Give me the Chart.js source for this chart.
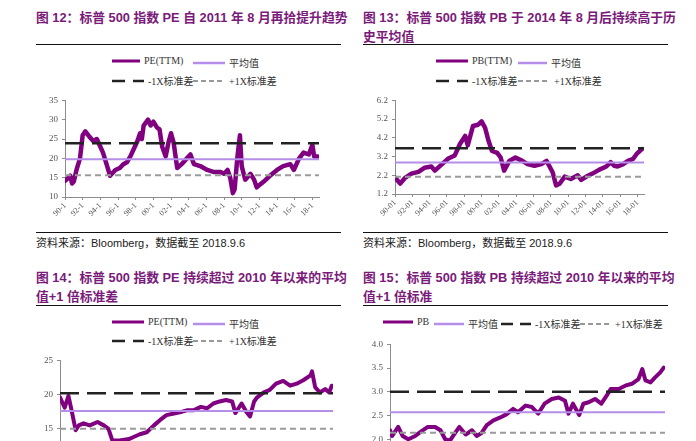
<!DOCTYPE html>
<html>
<head>
<meta charset="utf-8">
<script src="https://cdn.jsdelivr.net/npm/chart.js@4.4.0/dist/chart.umd.min.js"></script>
<style>
  html, body { margin: 0; padding: 0; background: #fff; overflow: hidden; }
  body { width: 696px; height: 441px; position: relative; }
  .title { position: absolute; color: #7a1a7a; font-family: "Liberation Sans", "Noto Sans CJK SC", sans-serif;
           font-weight: bold; font-size: 12.8px; line-height: 19px; white-space: nowrap; }
  .rule { position: absolute; height: 1px; background: #111; }
  .legend { position: absolute; font-family: "Liberation Serif", "Noto Sans CJK SC", serif; font-size: 10px;
            color: #333; white-space: nowrap; }
  .legend .item { position: absolute; display: flex; align-items: center; }
  .legend svg { margin-right: 4px; }
  .source { position: absolute; font-family: "Liberation Sans", "Noto Sans CJK SC", sans-serif; font-size: 11px;
            color: #222; white-space: nowrap; }
  .box { position: absolute; }
</style>
</head>
<body>

<div class="title" style="left:36px;top:8px">图 12：标普 500 指数 PE 自 2011 年 8 月再拾提升趋势</div>
<div class="rule" style="left:36px;top:44px;width:305px"></div>
<div class="legend" style="left:0;top:0">
  <div class="item" style="left:112px;top:55px"><svg width="28" height="6"><line x1="0" y1="3" x2="28" y2="3" stroke="#800080" stroke-width="3"/></svg>PE(TTM)</div>
  <div class="item" style="left:193px;top:55px"><svg width="32" height="6"><line x1="0" y1="3" x2="32" y2="3" stroke="#b48ee8" stroke-width="2.5"/></svg>平均值</div>
  <div class="item" style="left:112px;top:73px"><svg width="32" height="6"><line x1="0" y1="3" x2="32" y2="3" stroke="#222" stroke-width="2.5" stroke-dasharray="13,8"/></svg>-1X标准差</div>
  <div class="item" style="left:193px;top:73px"><svg width="32" height="6"><line x1="0" y1="3" x2="32" y2="3" stroke="#999" stroke-width="2" stroke-dasharray="5,3"/></svg>+1X标准差</div>
</div>
<div class="box" style="left:30px;top:91px;width:293px;height:136px"><canvas id="c1"></canvas></div>
<div class="rule" style="left:36px;top:232px;width:305px"></div>
<div class="source" style="left:36px;top:234px">资料来源：Bloomberg，数据截至 2018.9.6</div>

<div class="title" style="left:363px;top:8px">图 13：标普 500 指数 PB 于 2014 年 8 月后持续高于历<br>史平均值</div>
<div class="rule" style="left:363px;top:44px;width:305px"></div>
<div class="legend" style="left:0;top:0">
  <div class="item" style="left:436px;top:55px"><svg width="32" height="6"><line x1="0" y1="3" x2="32" y2="3" stroke="#800080" stroke-width="3"/></svg>PB(TTM)</div>
  <div class="item" style="left:518px;top:55px"><svg width="29" height="6"><line x1="0" y1="3" x2="29" y2="3" stroke="#b48ee8" stroke-width="2.5"/></svg>平均值</div>
  <div class="item" style="left:436px;top:73px"><svg width="32" height="6"><line x1="0" y1="3" x2="32" y2="3" stroke="#222" stroke-width="2.5" stroke-dasharray="13,8"/></svg>-1X标准差</div>
  <div class="item" style="left:518px;top:73px"><svg width="32" height="6"><line x1="0" y1="3" x2="32" y2="3" stroke="#999" stroke-width="2" stroke-dasharray="5,3"/></svg>+1X标准差</div>
</div>
<div class="box" style="left:360px;top:91px;width:288px;height:133px"><canvas id="c2"></canvas></div>
<div class="rule" style="left:363px;top:232px;width:305px"></div>
<div class="source" style="left:363px;top:234px">资料来源：Bloomberg，数据截至 2018.9.6</div>

<div class="title" style="left:36px;top:268px">图 14：标普 500 指数 PE 持续超过 2010 年以来的平均<br>值+1 倍标准差</div>
<div class="rule" style="left:36px;top:305px;width:305px"></div>
<div class="legend" style="left:0;top:0">
  <div class="item" style="left:112px;top:316px"><svg width="32" height="6"><line x1="0" y1="3" x2="32" y2="3" stroke="#800080" stroke-width="3"/></svg>PE(TTM)</div>
  <div class="item" style="left:193px;top:316px"><svg width="32" height="6"><line x1="0" y1="3" x2="32" y2="3" stroke="#b48ee8" stroke-width="2.5"/></svg>平均值</div>
  <div class="item" style="left:112px;top:333px"><svg width="32" height="6"><line x1="0" y1="3" x2="32" y2="3" stroke="#222" stroke-width="2.5" stroke-dasharray="13,8"/></svg>-1X标准差</div>
  <div class="item" style="left:193px;top:333px"><svg width="32" height="6"><line x1="0" y1="3" x2="32" y2="3" stroke="#999" stroke-width="2" stroke-dasharray="5,3"/></svg>+1X标准差</div>
</div>
<div class="box" style="left:25px;top:351px;width:312px;height:142px"><canvas id="c3"></canvas></div>

<div class="title" style="left:363px;top:268px">图 15：标普 500 指数 PB 持续超过 2010 年以来的平均<br>值+1 倍标准</div>
<div class="rule" style="left:363px;top:305px;width:305px"></div>
<div class="legend" style="left:0;top:0">
  <div class="item" style="left:383px;top:316px"><svg width="30" height="6"><line x1="0" y1="3" x2="30" y2="3" stroke="#800080" stroke-width="3"/></svg>PB</div>
  <div class="item" style="left:434px;top:316px"><svg width="30" height="6"><line x1="0" y1="3" x2="30" y2="3" stroke="#b48ee8" stroke-width="2.5"/></svg>平均值</div>
  <div class="item" style="left:501px;top:316px"><svg width="30" height="6"><line x1="0" y1="3" x2="30" y2="3" stroke="#222" stroke-width="2.5" stroke-dasharray="12,7"/></svg>-1X标准差</div>
  <div class="item" style="left:580px;top:316px"><svg width="31" height="6"><line x1="0" y1="3" x2="31" y2="3" stroke="#999" stroke-width="2" stroke-dasharray="5,3"/></svg>+1X标准差</div>
</div>
<div class="box" style="left:355px;top:335px;width:314px;height:158px"><canvas id="c4"></canvas></div>

<script>
// 图12：PE 1990 - 2018
const peYears = [1990.0, 1990.3, 1990.6, 1990.8, 1991.0, 1991.3, 1991.7, 1992.0, 1992.3, 1992.8,
  1993.2, 1993.6, 1994.0, 1994.3, 1994.7, 1995.1, 1995.7, 1996.2, 1996.6, 1997.0,
  1997.4, 1997.9, 1998.2, 1998.5, 1998.7, 1998.9, 1999.4, 1999.7, 2000.0, 2000.4,
  2000.7, 2001.0, 2001.4, 2001.7, 2002.0, 2002.3, 2002.7, 2003.2, 2003.8, 2004.2,
  2004.6, 2005.3, 2006.1, 2006.8, 2007.6, 2008.0, 2008.4, 2008.7, 2009.0, 2009.2,
  2009.5, 2009.8, 2010.0, 2010.4, 2011.0, 2011.4, 2011.7, 2012.5, 2013.2, 2014.0,
  2014.7, 2015.5, 2015.9, 2016.5, 2017.0, 2017.6, 2018.0, 2018.2, 2018.6];
const peValues = [14.2, 14.8, 15.5, 13.5, 14.0, 17.0, 20.0, 26.0, 27.0, 25.5,
  24.5, 25.0, 23.0, 21.5, 18.5, 15.5, 17.0, 17.5, 18.5, 19.0,
  20.5, 23.0, 24.5, 26.5, 25.0, 28.5, 30.0, 28.5, 29.5, 28.0,
  27.5, 23.0, 20.5, 24.0, 26.5, 24.0, 17.5, 18.5, 20.0, 21.0,
  18.5, 18.0, 17.0, 16.5, 16.5, 16.0, 17.0, 15.0, 11.0, 12.0,
  20.0, 26.0, 18.0, 14.5, 16.0, 14.5, 12.5, 14.0, 15.5, 17.0,
  18.0, 18.5, 17.0, 20.0, 21.5, 21.0, 23.5, 20.5, 20.5];
const peBands = { upper: 23.9, mean: 19.8, lower: 15.6 };
const peYTicks = [10, 15, 20, 25, 30, 35];

// 图13：PB 1990 - 2018
const pbYears = [1990.0, 1990.6, 1991.2, 1991.9, 1992.7, 1993.4, 1994.2, 1994.6, 1995.4, 1996.1,
  1996.9, 1997.5, 1998.1, 1998.4, 1999.0, 1999.6, 2000.0, 2000.4, 2000.8, 2001.2,
  2001.8, 2002.2, 2002.6, 2003.2, 2003.9, 2004.7, 2005.3, 2006.1, 2006.9, 2007.5,
  2007.8, 2008.2, 2008.6, 2009.0, 2009.6, 2010.3, 2011.1, 2011.5, 2012.1, 2012.8,
  2013.6, 2014.4, 2014.9, 2015.3, 2015.7, 2016.3, 2016.9, 2017.5, 2017.9, 2018.5];
const pbValues = [2.08, 1.76, 2.08, 2.29, 2.38, 2.6, 2.67, 2.45, 2.78, 3.08,
  3.26, 3.87, 4.3, 3.8, 4.83, 4.9, 5.08, 4.74, 4.04, 3.5,
  3.4, 3.15, 2.45, 2.97, 3.15, 2.97, 2.8, 2.71, 2.8, 2.97,
  2.71, 2.36, 1.66, 1.75, 2.13, 2.0, 2.2, 1.95, 2.13, 2.29,
  2.5, 2.67, 2.9, 2.71, 2.67, 2.78, 2.97, 3.08, 3.34, 3.6];
const pbBands = { upper: 3.64, mean: 2.88, lower: 2.12 };
const pbYTicks = [1.2, 2.2, 3.2, 4.2, 5.2, 6.2];

// 图14：PE 2010 以来
const pe10Years = [2010.0, 2010.15, 2010.27, 2010.37, 2010.5, 2010.6, 2010.75, 2010.95, 2011.2, 2011.4,
  2011.55, 2011.67, 2011.9, 2012.2, 2012.35, 2012.55, 2012.77, 2013.0, 2013.2, 2013.4,
  2013.6, 2013.9, 2014.05, 2014.26, 2014.5, 2014.7, 2014.9, 2015.1, 2015.3, 2015.5,
  2015.6, 2015.8, 2015.95, 2016.07, 2016.2, 2016.3, 2016.5, 2016.7, 2016.9, 2017.13,
  2017.35, 2017.56, 2017.77, 2018.0, 2018.05, 2018.15, 2018.3, 2018.47, 2018.6, 2018.68];
const pe10Values = [19.6, 18.1, 19.8, 17.7, 14.8, 15.5, 15.8, 15.5, 16.0, 15.5,
  15.0, 13.3, 13.3, 13.5, 13.8, 14.2, 14.5, 15.5, 16.3, 17.0,
  17.2, 17.5, 17.7, 17.7, 18.2, 18.0, 18.7, 19.0, 19.2, 19.0,
  17.3, 18.7, 17.5, 16.8, 19.0, 19.6, 20.3, 20.7, 21.6, 22.0,
  21.3, 21.6, 22.1, 22.8, 23.4, 21.1, 20.3, 20.8, 20.3, 21.3];
const pe10Bands = { upper: 20.2, mean: 17.6, lower: 15.0 };
const pe10YTicks = [10, 15, 20, 25];

// 图15：PB 2010 以来
const pb10Years = [2010.0, 2010.07, 2010.26, 2010.4, 2010.58, 2010.8, 2011.0, 2011.2, 2011.43, 2011.6,
  2011.75, 2011.9, 2012.06, 2012.2, 2012.4, 2012.6, 2012.75, 2012.9, 2013.07, 2013.28,
  2013.5, 2013.7, 2013.9, 2014.06, 2014.3, 2014.5, 2014.7, 2014.9, 2015.13, 2015.35,
  2015.55, 2015.66, 2015.8, 2016.0, 2016.13, 2016.3, 2016.5, 2016.7, 2016.87, 2017.0,
  2017.25, 2017.46, 2017.67, 2017.88, 2018.0, 2018.1, 2018.26, 2018.4, 2018.57, 2018.68];
const pb10Values = [2.19, 2.07, 2.26, 2.07, 2.0, 2.07, 2.17, 2.26, 2.26, 2.19,
  2.0, 1.97, 2.13, 2.26, 2.1, 2.19, 2.07, 2.13, 2.3, 2.4,
  2.46, 2.53, 2.64, 2.57, 2.71, 2.68, 2.54, 2.75, 2.85, 2.88,
  2.81, 2.54, 2.75, 2.51, 2.75, 2.78, 2.85, 2.75, 2.92, 3.06,
  3.06, 3.13, 3.17, 3.27, 3.48, 3.24, 3.2, 3.3, 3.41, 3.51];
const pb10Bands = { upper: 3.0, mean: 2.57, lower: 2.14 };
const pb10YTicks = [1.5, 2.0, 2.5, 3.0, 3.5, 4.0];

const fullXTicks = [1990, 1992, 1994, 1996, 1998, 2000, 2002, 2004, 2006, 2008, 2010, 2012, 2014, 2016, 2018];
const recentXTicks = [2010, 2011, 2012, 2013, 2014, 2015, 2016, 2017, 2018];

const SERIES_COLOR = '#800080';
const MEAN_COLOR = '#b48ee8';
const UPPER_COLOR = '#222222';
const LOWER_COLOR = '#9a9a9a';
const AXIS_COLOR = '#8c8c8c';
const TICK_FONT = { family: '"Liberation Serif", serif', size: 9 };

function pairUp(xs, ys) {
    return xs.map((x, i) => ({ x, y: ys[i] }));
}

function flatLine(xMin, xMax, value) {
    return [{ x: xMin, y: value }, { x: xMax, y: value }];
}

function makeChart(id, cfg) {
    const { years, values, bands, yTicks, xTicks, xMin, xMax, yDigits, xLabel, seriesWidth, dash } = cfg;
    return new Chart(document.getElementById(id), {
        type: 'line',
        data: {
            datasets: [{
                label: '+1X标准差',
                data: flatLine(xMin, xMax, bands.lower),
                borderColor: LOWER_COLOR,
                borderWidth: 2,
                borderDash: [6, 4]
            }, {
                label: '平均值',
                data: flatLine(xMin, xMax, bands.mean),
                borderColor: MEAN_COLOR,
                borderWidth: 2
            }, {
                label: '-1X标准差',
                data: flatLine(xMin, xMax, bands.upper),
                borderColor: UPPER_COLOR,
                borderWidth: 2.5,
                borderDash: dash
            }, {
                label: 'series',
                data: pairUp(years, values),
                borderColor: SERIES_COLOR,
                borderWidth: seriesWidth,
                borderJoinStyle: 'round',
                borderCapStyle: 'round'
            }]
        },
        options: {
            responsive: true,
            maintainAspectRatio: false,
            animation: false,
            events: [],
            layout: { padding: { top: 8, right: 4, left: 0, bottom: 0 } },
            elements: { point: { radius: 0 }, line: { tension: 0 } },
            plugins: { legend: { display: false }, tooltip: { enabled: false } },
            scales: {
                x: {
                    type: 'linear',
                    min: xMin,
                    max: xMax,
                    afterBuildTicks: s => { s.ticks = xTicks.map(v => ({ value: v })); },
                    afterFit: s => { s.height = 30; },
                    border: { color: AXIS_COLOR, width: 1 },
                    grid: { display: true, drawOnChartArea: false, tickLength: 3, color: AXIS_COLOR },
                    ticks: {
                        autoSkip: false,
                        minRotation: 45,
                        maxRotation: 45,
                        padding: 1,
                        color: '#555',
                        font: { family: '"Liberation Serif", serif', size: 8 },
                        callback: v => xLabel(v)
                    }
                },
                y: {
                    min: yTicks[0],
                    max: yTicks[yTicks.length - 1],
                    afterBuildTicks: s => { s.ticks = yTicks.map(v => ({ value: v })); },
                    afterFit: s => { s.width = 35; },
                    border: { color: AXIS_COLOR, width: 1 },
                    grid: { display: true, drawOnChartArea: false, tickLength: 3, color: AXIS_COLOR },
                    ticks: {
                        padding: 4,
                        color: '#555',
                        font: TICK_FONT,
                        callback: v => v.toFixed(yDigits)
                    }
                }
            }
        }
    });
}

const yy = v => String(Math.round(v) % 100).padStart(2, '0');

makeChart('c1', {
    years: peYears, values: peValues, bands: peBands, yTicks: peYTicks,
    xTicks: fullXTicks, xMin: 1990, xMax: 2018.75, yDigits: 0,
    xLabel: v => yy(v) + '-1', seriesWidth: 4.5, dash: [19, 8]
});

makeChart('c2', {
    years: pbYears, values: pbValues, bands: pbBands, yTicks: pbYTicks,
    xTicks: fullXTicks, xMin: 1990, xMax: 2018.75, yDigits: 1,
    xLabel: v => yy(v) + '-01', seriesWidth: 4.5, dash: [19, 8]
});

makeChart('c3', {
    years: pe10Years, values: pe10Values, bands: pe10Bands, yTicks: pe10YTicks,
    xTicks: recentXTicks, xMin: 2010, xMax: 2018.72, yDigits: 0,
    xLabel: v => yy(v) + '-01', seriesWidth: 4, dash: [19, 8]
});

makeChart('c4', {
    years: pb10Years, values: pb10Values, bands: pb10Bands, yTicks: pb10YTicks,
    xTicks: recentXTicks, xMin: 2010, xMax: 2018.72, yDigits: 1,
    xLabel: v => yy(v) + '-01', seriesWidth: 4, dash: [19, 8]
});
</script>
</body>
</html>
